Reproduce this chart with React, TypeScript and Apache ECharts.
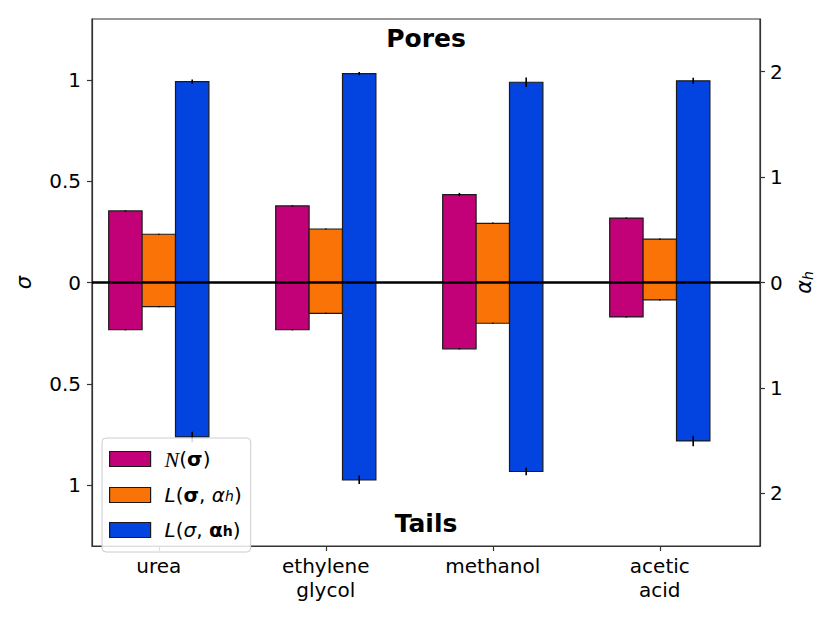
import React, { useEffect, useRef } from "react";
import * as echarts from "echarts";

const categories = ["urea", "ethylene\nglycol", "methanol", "acetic\nacid"];
const catPositions = [0, 1, 2, 3];

// N(sigma) – left axis (sigma)
const normPores = [0.353, 0.378, 0.434, 0.318];
const normTails = [-0.233, -0.233, -0.327, -0.17];
const normErrPores = [0.003, 0.003, 0.008, 0.003];
const normErrTails = [0.003, 0.003, 0.003, 0.003];

// L(sigma, alpha_h) with bold sigma – left axis
const lsPores = [0.238, 0.264, 0.292, 0.214];
const lsTails = [-0.119, -0.152, -0.201, -0.086];
const lsErrPores = [0.003, 0.003, 0.004, 0.003];
const lsErrTails = [0.003, 0.003, 0.003, 0.003];

// L(sigma, alpha_h) with bold alpha_h – right axis (alpha_h)
const laPores = [1.906, 1.982, 1.9, 1.913];
const laTails = [-1.465, -1.872, -1.793, -1.503];
const laErrPores = [0.02, 0.015, 0.045, 0.03];
const laErrTails = [0.05, 0.04, 0.035, 0.05];

const leftTicks = [-1, -0.5, 0, 0.5, 1];
const rightTicks = [-2, -1, 0, 1, 2];

const COLORS = { norm: "#C20078", ls: "#F97306", la: "#0343DF" };
const FONT = "DejaVu Sans";
const BAR_W = 0.2;

function buildData(offset: number, pores: number[], tails: number[], ep: number[], et: number[]) {
  const out: number[][] = [];
  catPositions.forEach((c, i) => {
    out.push([c + offset, pores[i], ep[i]]);
    out.push([c + offset, tails[i], et[i]]);
  });
  return out;
}

const renderBar = (color: string) => (params: any, api: any) => {
  const x = api.value(0);
  const v = api.value(1);
  const e = api.value(2);
  const p0 = api.coord([x - BAR_W / 2, 0]);
  const p1 = api.coord([x + BAR_W / 2, v]);
  const e0 = api.coord([x, v - e]);
  const e1 = api.coord([x, v + e]);
  return {
    type: "group",
    children: [
      {
        type: "rect",
        shape: {
          x: p0[0],
          y: Math.min(p0[1], p1[1]),
          width: p1[0] - p0[0],
          height: Math.abs(p1[1] - p0[1]),
        },
        style: { fill: color, stroke: "#1a1a1a", lineWidth: 1.2 },
      },
      {
        type: "line",
        shape: { x1: e0[0], y1: e0[1], x2: e1[0], y2: e1[1] },
        style: { stroke: "#000", lineWidth: 1.6 },
      },
    ],
  };
};

const LFS = 20;
const legendRich = {
  t: { fontFamily: FONT, fontSize: LFS, lineHeight: 15, color: "#000" },
  cal: { fontFamily: "Liberation Serif", fontStyle: "italic", fontSize: 22, lineHeight: 15, color: "#000" },
  it: { fontFamily: FONT, fontStyle: "italic", fontSize: LFS, lineHeight: 15, color: "#000" },
  b: { fontFamily: FONT, fontWeight: "bold", fontSize: LFS, lineHeight: 15, color: "#000" },
  sub: { fontFamily: FONT, fontStyle: "italic", fontSize: 14, lineHeight: 4, verticalAlign: "bottom", color: "#000" },
  subb: { fontFamily: FONT, fontWeight: "bold", fontSize: 14, lineHeight: 4, verticalAlign: "bottom", color: "#000" },
};

const NAME_N = "𝒩(σ)";
const NAME_LS = "L(σ, αh) [σ]";
const NAME_LA = "L(σ, αh) [αh]";

const legendFormat: Record<string, string> = {
  [NAME_N]: "{cal|N}{t|(}{b|σ}{t|)}",
  [NAME_LS]: "{it|L}{t|(}{b|σ}{t|, }{it|α}{sub|h}{t|)}",
  [NAME_LA]: "{it|L}{t|(}{it|σ}{t|, }{b|α}{subb|h}{t|)}",
};

export default function App() {
  const ref = useRef<HTMLDivElement>(null);

  useEffect(() => {
    document.body.style.margin = "0";
    if (!ref.current) return;
    const chart = echarts.init(ref.current, undefined, { renderer: "svg" });
    const axisLine = { show: true, onZero: false, lineStyle: { color: "#333", width: 1.2 } };
    const tickStyle = { show: true, length: 5, lineStyle: { color: "#333", width: 1.2 } };
    const labelStyle = { fontFamily: FONT, fontSize: 20, color: "#000" };

    chart.setOption({
      animation: false,
      backgroundColor: "#fff",
      grid: {
        left: 92,
        right: 70,
        top: 19,
        bottom: 77,
        show: true,
        borderColor: "#333",
        borderWidth: 1.2,
        backgroundColor: "transparent",
      },
      xAxis: {
        type: "value",
        min: -0.4,
        max: 3.6,
        axisLine,
        axisTick: { ...tickStyle, customValues: catPositions },
        splitLine: { show: false },
        axisLabel: {
          ...labelStyle,
          customValues: catPositions,
          margin: 8,
          lineHeight: 24,
          formatter: (v: number) => categories[Math.round(v)] ?? "",
        },
      },
      yAxis: [
        {
          type: "value",
          min: -1.3,
          max: 1.3,
          position: "left",
          axisLine,
          axisTick: { ...tickStyle, customValues: leftTicks },
          splitLine: { show: false },
          axisLabel: {
            ...labelStyle,
            margin: 11,
            customValues: leftTicks,
            formatter: (v: number) => String(Math.abs(v)),
          },
          name: "σ",
          nameLocation: "middle",
          nameRotate: 90,
          nameGap: 58,
          nameTextStyle: { fontFamily: FONT, fontStyle: "italic", fontSize: 21, color: "#000" },
        },
        {
          type: "value",
          min: -2.5,
          max: 2.5,
          position: "right",
          axisLine,
          axisTick: { ...tickStyle, customValues: rightTicks },
          splitLine: { show: false },
          axisLabel: {
            ...labelStyle,
            margin: 10,
            customValues: rightTicks,
            formatter: (v: number) => String(Math.abs(v)),
          },
          name: "{a|α}{s|h}",
          nameLocation: "middle",
          nameRotate: 90,
          nameGap: 30,
          nameTextStyle: {
            rich: {
              a: { fontFamily: FONT, fontStyle: "italic", fontSize: 21, lineHeight: 22, color: "#000" },
              s: { fontFamily: FONT, fontStyle: "italic", fontSize: 14, lineHeight: 6, verticalAlign: "bottom", color: "#000" },
            },
          },
        },
      ],
      legend: {
        left: 102,
        top: 438,
        orient: "vertical",
        itemWidth: 41,
        itemHeight: 15,
        itemGap: 15,
        padding: [10, 9, 12, 7],
        backgroundColor: "rgba(255,255,255,0.85)",
        borderColor: "#cccccc",
        borderWidth: 1,
        borderRadius: 4,
        selectedMode: false,
        textStyle: { rich: legendRich, padding: [0, 0, 0, 9] },
        formatter: (name: string) => legendFormat[name] ?? name,
        data: [
          { name: NAME_N, icon: "rect", itemStyle: { color: COLORS.norm, borderColor: "#1a1a1a", borderWidth: 1.2 } },
          { name: NAME_LS, icon: "rect", itemStyle: { color: COLORS.ls, borderColor: "#1a1a1a", borderWidth: 1.2 } },
          { name: NAME_LA, icon: "rect", itemStyle: { color: COLORS.la, borderColor: "#1a1a1a", borderWidth: 1.2 } },
        ],
      },
      graphic: [
        {
          type: "text",
          x: 426,
          y: 38,
          style: { text: "Pores", fontFamily: FONT, fontWeight: "bold", fontSize: 25, fill: "#000", align: "center", verticalAlign: "middle" },
          z: 20,
        },
        {
          type: "text",
          x: 426,
          y: 523,
          style: { text: "Tails", fontFamily: FONT, fontWeight: "bold", fontSize: 25, fill: "#000", align: "center", verticalAlign: "middle" },
          z: 20,
        },
      ],
      series: [
        {
          name: NAME_N,
          type: "custom",
          xAxisIndex: 0,
          yAxisIndex: 0,
          itemStyle: { color: COLORS.norm },
          encode: { x: 0, y: 1 },
          renderItem: renderBar(COLORS.norm),
          data: buildData(-0.2, normPores, normTails, normErrPores, normErrTails),
          z: 2,
        },
        {
          name: NAME_LS,
          type: "custom",
          xAxisIndex: 0,
          yAxisIndex: 0,
          itemStyle: { color: COLORS.ls },
          encode: { x: 0, y: 1 },
          renderItem: renderBar(COLORS.ls),
          data: buildData(0, lsPores, lsTails, lsErrPores, lsErrTails),
          z: 2,
        },
        {
          name: NAME_LA,
          type: "custom",
          xAxisIndex: 0,
          yAxisIndex: 1,
          itemStyle: { color: COLORS.la },
          encode: { x: 0, y: 1 },
          renderItem: renderBar(COLORS.la),
          data: buildData(0.2, laPores, laTails, laErrPores, laErrTails),
          z: 2,
        },
        {
          name: "zero",
          type: "line",
          xAxisIndex: 0,
          yAxisIndex: 0,
          data: [],
          z: 10,
          markLine: {
            silent: true,
            symbol: ["none", "none"],
            label: { show: false },
            lineStyle: { color: "#000", width: 2.6, type: "solid" },
            data: [{ yAxis: 0 }],
          },
        },
      ],
    });
    return () => chart.dispose();
  }, []);

  return <div ref={ref} style={{ width: 830, height: 623 }} />;
}
